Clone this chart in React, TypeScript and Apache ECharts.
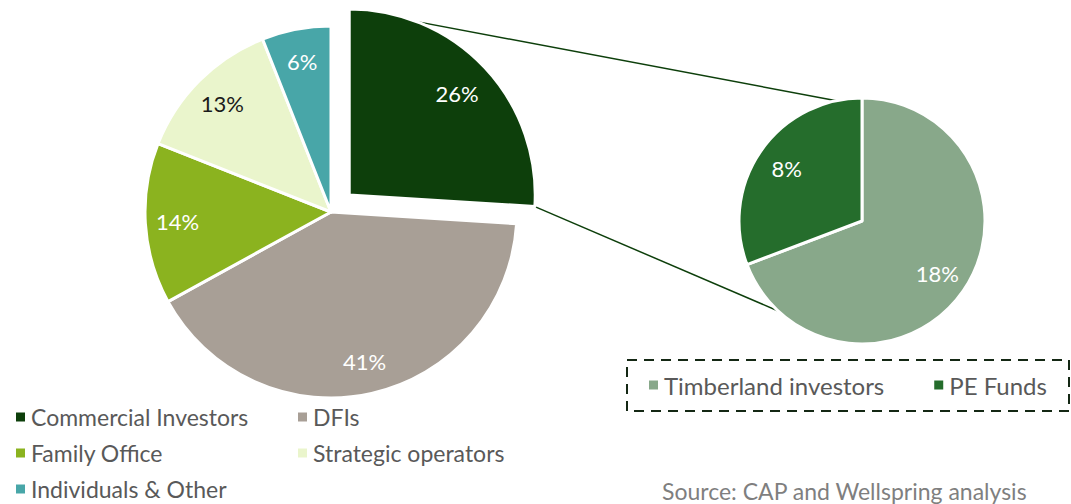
import React, { useEffect, useRef } from "react";
import * as echarts from "echarts";

const mainNames = ["Commercial Investors", "DFIs", "Family Office", "Strategic operators", "Individuals & Other"];
const mainValues = [26, 41, 14, 13, 6];
const mainColors = ["#0d3f0b", "#a89f96", "#8bb31f", "#eaf5cc", "#48a6a8"];
const mainLabelColors = ["#ffffff", "#ffffff", "#ffffff", "#1a1a1a", "#ffffff"];

const subNames = ["Timberland investors", "PE Funds"];
const subValues = [18, 8];
const subColors = ["#88a88a", "#256d2c"];

const sourceText = "Source: CAP and Wellspring analysis";

const FONT = "Lato, 'Open Sans', sans-serif";

export default function App() {
  const ref = useRef<HTMLDivElement>(null);
  useEffect(() => {
    document.body.style.margin = "0";
    if (!ref.current) return;
    const chart = echarts.init(ref.current, null, { renderer: "svg" });

    const cx = 331, cy = 212, R = 186, off = 25;
    const sx = 862, sy = 221, r = 123;
    const total = mainValues.reduce((a, b) => a + b, 0);
    const endDeg = (360 * mainValues[0]) / total;
    const midDeg = endDeg / 2;
    const rad = (d: number) => (d * Math.PI) / 180;
    const ecx = cx + off * Math.sin(rad(midDeg));
    const ecy = cy - off * Math.cos(rad(midDeg));
    const p1 = [ecx, ecy - R];
    const p2 = [ecx + R * Math.sin(rad(endDeg)), ecy - R * Math.cos(rad(endDeg))];
    const q1 = [sx + r * Math.sin(rad(-12)), sy - r * Math.cos(rad(-12))];
    const q2 = [sx + r * Math.sin(rad(223)), sy - r * Math.cos(rad(223))];

    const pct = (p: any) => p.value + "%";

    const mainData = mainNames.map((n, i) => ({
      name: n,
      value: mainValues[i],
      selected: i === 0,
      itemStyle: { color: mainColors[i] },
    }));
    // label overlay for the exploded slice only
    const explodedLabelData = mainNames.map((n, i) => ({
      name: n,
      value: mainValues[i],
      selected: i === 0,
      label: { show: i === 0, color: mainLabelColors[i] },
    }));
    // label overlay for the remaining slices
    const restLabelData = mainNames.map((n, i) => ({
      name: n,
      value: mainValues[i],
      selected: i === 0,
      label: { show: i !== 0, color: mainLabelColors[i] },
    }));
    const subData = subNames.map((n, i) => ({
      name: n,
      value: subValues[i],
      itemStyle: { color: subColors[i] },
    }));

    const legendText = { color: "#595959", fontSize: 23, fontFamily: FONT, lineHeight: 26 };
    const labelFont = { fontSize: 22, fontFamily: FONT };

    const overlayBase = {
      type: "pie",
      startAngle: 90,
      clockwise: true,
      silent: true,
      emphasis: { disabled: true },
      itemStyle: { color: "rgba(0,0,0,0)", borderWidth: 0 },
      labelLine: { show: false },
      z: 3,
    };

    chart.setOption({
      animation: false,
      legend: [
        {
          data: [mainNames[0], mainNames[2], mainNames[4]],
          orient: "vertical",
          left: 14,
          top: 404,
          padding: 0,
          itemGap: 10,
          itemWidth: 11,
          itemHeight: 11,
          icon: "rect",
          textStyle: legendText,
          selectedMode: false,
        },
        {
          data: [mainNames[1], mainNames[3]],
          orient: "vertical",
          left: 296,
          top: 404,
          padding: 0,
          itemGap: 10,
          itemWidth: 11,
          itemHeight: 11,
          icon: "rect",
          textStyle: legendText,
          selectedMode: false,
        },
        {
          data: subNames,
          orient: "horizontal",
          left: 647,
          top: 372,
          padding: 0,
          itemGap: 48,
          itemWidth: 11,
          itemHeight: 11,
          icon: "rect",
          textStyle: { ...legendText, fontSize: 24 },
          selectedMode: false,
        },
      ],
      graphic: [
        {
          type: "line",
          z: 0,
          silent: true,
          shape: { x1: p1[0], y1: p1[1], x2: q1[0], y2: q1[1] },
          style: { stroke: "#0d3f0b", lineWidth: 1.5 },
        },
        {
          type: "line",
          z: 0,
          silent: true,
          shape: { x1: p2[0], y1: p2[1], x2: q2[0], y2: q2[1] },
          style: { stroke: "#0d3f0b", lineWidth: 1.5 },
        },
        {
          type: "rect",
          silent: true,
          shape: { x: 627, y: 360, width: 442, height: 51 },
          style: { fill: "none", stroke: "#142814", lineWidth: 2, lineDash: [10, 7] },
        },
        {
          type: "text",
          silent: true,
          left: 662,
          top: 479,
          style: { text: sourceText, fill: "#7f7f7f", fontSize: 23, fontFamily: FONT },
        },
      ],
      series: [
        {
          type: "pie",
          center: [cx, cy],
          radius: R,
          startAngle: 90,
          clockwise: true,
          selectedMode: "single",
          selectedOffset: off,
          silent: true,
          emphasis: { disabled: true },
          itemStyle: { borderColor: "#ffffff", borderWidth: 3 },
          label: { show: false },
          labelLine: { show: false },
          data: mainData,
          z: 2,
        },
        {
          type: "pie",
          center: [sx, sy],
          radius: r,
          startAngle: 90,
          clockwise: true,
          silent: true,
          emphasis: { disabled: true },
          itemStyle: { borderColor: "#ffffff", borderWidth: 3 },
          label: { show: false },
          labelLine: { show: false },
          data: subData,
          z: 2,
        },
        {
          ...overlayBase,
          center: [cx, cy],
          radius: [R * 0.56, R],
          selectedMode: "single",
          selectedOffset: off,
          label: { position: "inside", formatter: pct, ...labelFont },
          data: explodedLabelData,
        },
        {
          ...overlayBase,
          center: [cx, cy],
          radius: [R * 0.62, R],
          selectedMode: "single",
          selectedOffset: off,
          label: { position: "inside", formatter: pct, ...labelFont },
          data: restLabelData,
        },
        {
          ...overlayBase,
          center: [sx, sy],
          radius: [r * 0.44, r],
          label: { show: true, position: "inside", formatter: pct, color: "#ffffff", ...labelFont },
          data: subNames.map((n, i) => ({ name: n, value: subValues[i] })),
        },
      ],
    });
    return () => chart.dispose();
  }, []);
  return <div ref={ref} style={{ width: 1071, height: 504 }} />;
}
